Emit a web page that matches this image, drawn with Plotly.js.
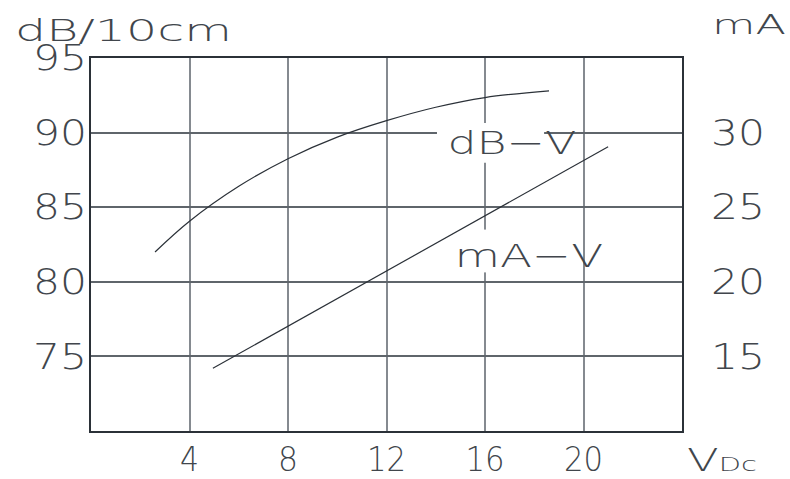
<!DOCTYPE html>
<html>
<head>
<meta charset="utf-8">
<script src="https://cdn.plot.ly/plotly-3.0.1.min.js"></script>
<style>html,body{margin:0;padding:0;background:#fff;}#chart{width:790px;height:479px;}</style>
</head>
<body>
<div id="chart"></div>
<script>
// Data
const dbVolts = [2.6, 4, 6, 8, 10, 12, 14, 16, 18.6];
const dbValues = [82.0, 84.06, 86.4, 88.25, 89.7, 90.8, 91.7, 92.35, 92.8];
const maVolts = [4.95, 21.0];
const maValues = [14.2, 29.05];
const xTicks = [4, 8, 12, 16, 20];
const yLeftTicks = [75, 80, 85, 90, 95];
const yRightTicks = [15, 20, 25, 30];
const curveLabels = ["dB\u2212V", "mA\u2212V"];
const axisLabels = {left: "dB/10cm", right: "mA", bottom: "V<span style='font-size:20px'>Dc</span>"};

const FONT = "'DejaVu Sans', sans-serif";
const TXT = "#41464c";
const W = 200;
const tickFont = {family: FONT, size: 35, color: TXT, weight: W};
const xTickFont = {family: FONT, size: 34, color: TXT, weight: W};

const traces = [
  {x: dbVolts, y: dbValues, type: "scatter", mode: "lines", yaxis: "y",
   line: {color: "#2b3138", width: 1.2, shape: "spline", smoothing: 1.0}, hoverinfo: "skip"},
  {x: maVolts, y: maValues, type: "scatter", mode: "lines", yaxis: "y2",
   line: {color: "#2b3138", width: 1.2}, hoverinfo: "skip"}
];

const layout = {
  width: 790, height: 479,
  margin: {l: 91, r: 108, t: 58, b: 48},
  paper_bgcolor: "#fff", plot_bgcolor: "#fff",
  showlegend: false,
  xaxis: {range: [0, 24], tickvals: xTicks, ticktext: xTicks.map(String),
          showgrid: true, gridcolor: "#858a90", gridwidth: 2,
          showline: true, mirror: true, linecolor: "#2b3138", linewidth: 2,
          zeroline: false, ticks: "", tickfont: xTickFont, ticklabelstandoff: -3},
  yaxis: {range: [70, 95], tickvals: yLeftTicks, ticktext: yLeftTicks.map(String),
          showgrid: true, gridcolor: "#5f656b", gridwidth: 2,
          showline: true, mirror: true, linecolor: "#2b3138", linewidth: 2,
          zeroline: false, ticks: "", tickfont: tickFont, ticklabelstandoff: -5},
  yaxis2: {range: [10, 35], overlaying: "y", side: "right",
           tickvals: yRightTicks, ticktext: yRightTicks.map(String),
           showgrid: false, zeroline: false, showline: false, ticks: "",
           tickfont: tickFont, ticklabelstandoff: 28},
  shapes: [
    // white masks that break the grid lines behind the curve labels
    {type: "rect", xref: "x", yref: "y", x0: 14.05, x1: 18.4, y0: 87.98, y1: 90.65,
     fillcolor: "#fff", line: {width: 0}, layer: "above"},
    {type: "rect", xref: "x", yref: "y", x0: 15.6, x1: 16.4, y0: 80.63, y1: 83.5,
     fillcolor: "#fff", line: {width: 0}, layer: "above"}
  ],
  annotations: [
    {xref: "x", yref: "y", x: 17.1, y: 89.3, text: curveLabels[0], showarrow: false,
     font: {family: FONT, size: 32, color: TXT, weight: W}},
    {xref: "x", yref: "y", x: 17.8, y: 81.76, text: curveLabels[1], showarrow: false,
     font: {family: FONT, size: 32, color: TXT, weight: W}},
    {xref: "paper", yref: "paper", x: (13 - 91) / 591, y: 1.075, xanchor: "left", yanchor: "middle",
     text: axisLabels.left, showarrow: false, font: {family: FONT, size: 30, color: TXT, weight: W}},
    {xref: "paper", yref: "paper", x: (710 - 91) / 591, y: 1.088, xanchor: "left", yanchor: "middle",
     text: axisLabels.right, showarrow: false, font: {family: FONT, size: 26, color: TXT, weight: W}},
    {xref: "paper", yref: "paper", x: (685 - 91) / 591, y: -0.0777, xanchor: "left", yanchor: "middle",
     text: axisLabels.bottom, showarrow: false, font: {family: FONT, size: 32, color: TXT, weight: W}}
  ]
};

// horizontal stretch (the reference uses a wide plotter font)
function stretch(el, opts) {
  try {
    const bb = el.getBBox();
    if (!bb.width) return;
    const s = opts.scale || (opts.width / bb.width);
    const px = opts.pivot === "left" ? bb.x : opts.pivot === "right" ? bb.x + bb.width : bb.x + bb.width / 2;
    const cur = el.getAttribute("transform") || "";
    el.setAttribute("transform", cur + " translate(" + px + ",0) scale(" + s + ",1) translate(" + (-px) + ",0)");
  } catch (e) {}
}

Plotly.newPlot("chart", traces, layout, {staticPlot: true, displayModeBar: false}).then(function (gd) {
  gd.querySelectorAll("g.ytick text").forEach(function (t) { stretch(t, {width: 54, pivot: "right"}); });
  gd.querySelectorAll("g.y2tick text").forEach(function (t) { stretch(t, {width: 54, pivot: "left"}); });
  gd.querySelectorAll("g.xtick text").forEach(function (t) {
    const txt = t.textContent;
    stretch(t, {width: txt === "4" ? 19 : txt === "8" ? 20 : 39, pivot: "center"});
  });
  const ann = gd.querySelectorAll("g.annotation text.annotation-text");
  const spec = [
    {width: 129, pivot: "center"},
    {width: 149, pivot: "center"},
    {width: 217, pivot: "left"},
    {width: 74, pivot: "left"},
    {width: 70, pivot: "left"}
  ];
  ann.forEach(function (t, i) { if (spec[i]) stretch(t, spec[i]); });
});
</script>
</body>
</html>
